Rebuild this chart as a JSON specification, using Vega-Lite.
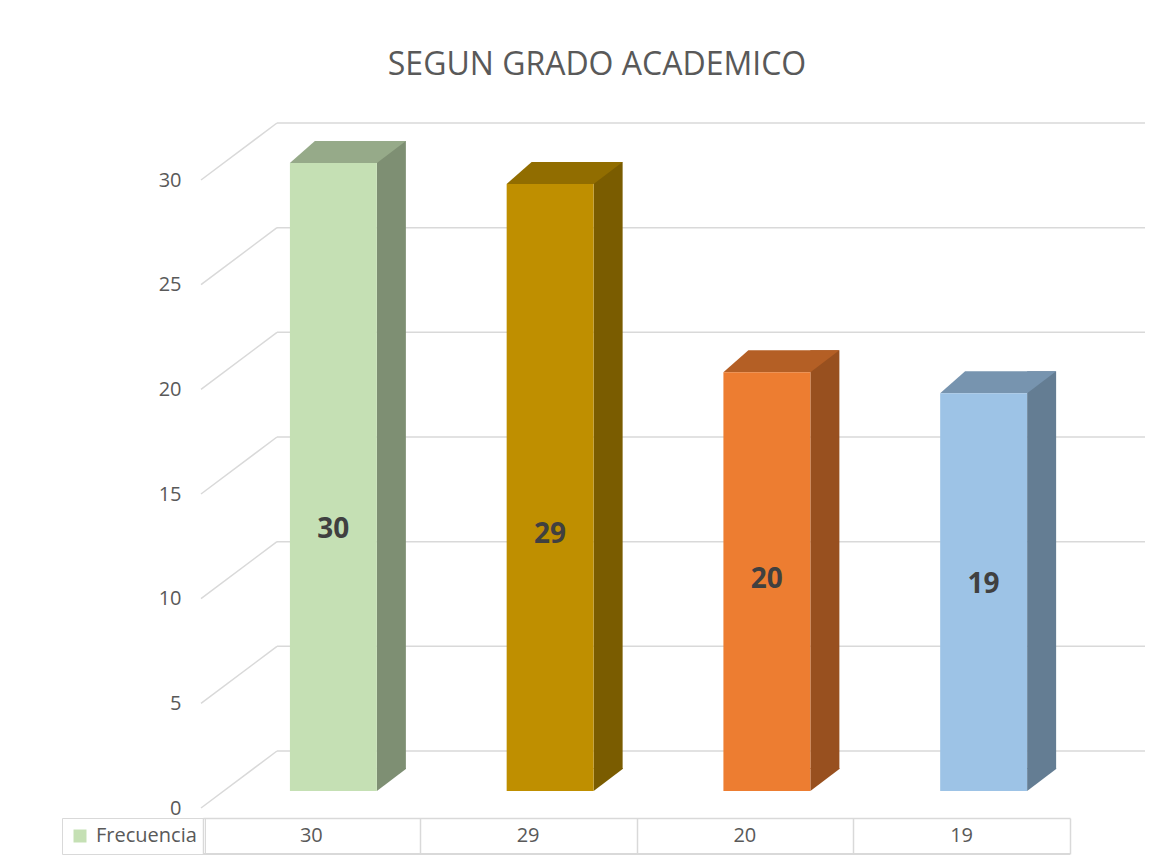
{
  "$schema": "https://vega.github.io/schema/vega-lite/v6.json",
  "autosize": "none",
  "width": 942,
  "height": 628,
  "padding": {"left": 203, "top": 180, "right": 28, "bottom": 56},
  "background": "white",
  "title": {"text": "SEGUN GRADO ACADEMICO", "font": "Open Sans", "fontSize": 32, "fontWeight": "normal", "color": "#595959", "anchor": "middle", "dx": -77, "offset": 40},
  "datasets": {
    "barras": [
      {"grado": "G1", "frecuencia": 30},
      {"grado": "G2", "frecuencia": 29},
      {"grado": "G3", "frecuencia": 20},
      {"grado": "G4", "frecuencia": 19}
    ],
    "marcas": [
      {"valor": 0}, {"valor": 5}, {"valor": 10}, {"valor": 15}, {"valor": 20}, {"valor": 25}, {"valor": 30}
    ]
  },
  "config": {
    "view": {"stroke": null},
    "font": "Open Sans",
    "axisY": {"grid": false, "domain": false, "ticks": false, "labelPadding": 22, "labelFontSize": 20, "labelColor": "#595959", "labelFont": "Open Sans", "tickCount": 6},
    "axisX": {"labels": false, "grid": false, "domainColor": "#D9D9D9", "domainWidth": 1.5, "tickColor": "#D9D9D9", "tickWidth": 1.5, "tickSize": 36, "tickBand": "extent", "offset": 10}
  },
  "resolve": {"scale": {"y": "independent"}},
  "layer": [
    {
      "resolve": {"scale": {"fill": "independent"}},
      "layer": [
        {
          "data": {"name": "marcas"},
          "mark": {"type": "rule", "color": "#D9D9D9", "strokeWidth": 1.5, "yOffset": -57, "xOffset": 74, "x2Offset": 75},
          "encoding": {
            "x": {"datum": "G1", "bandPosition": 0, "scale": {"domain": ["G1", "G2", "G3", "G4"], "range": [0, 867], "paddingInner": 0, "paddingOuter": 0}, "title": null},
            "x2": {"datum": "G4", "bandPosition": 1},
            "y": {"field": "valor", "type": "quantitative", "scale": {"domain": [0, 30], "nice": false}, "title": null}
          }
        },
        {
          "data": {"name": "marcas"},
          "mark": {"type": "rule", "color": "#D9D9D9", "strokeWidth": 1.5, "xOffset": -2, "x2Offset": 74, "y2Offset": -57},
          "encoding": {
            "x": {"datum": "G1", "bandPosition": 0},
            "x2": {"datum": "G1", "bandPosition": 0},
            "y": {"field": "valor", "type": "quantitative", "title": null},
            "y2": {"field": "valor"}
          }
        },
        {
          "data": {"name": "barras"},
          "mark": {"type": "bar", "width": 29, "xOffset": 80, "yOffset": -39, "y2Offset": -39},
          "encoding": {
            "x": {"field": "grado", "type": "nominal", "title": null},
            "y": {"field": "frecuencia", "type": "quantitative", "title": null},
            "fill": {"field": "grado", "type": "nominal", "scale": {"domain": ["G1", "G2", "G3", "G4"], "range": ["#7E8F73", "#7A5C00", "#98501F", "#647D93"]}, "legend": null}
          }
        },
        {
          "data": {"name": "barras"},
          "mark": {"type": "point", "shape": "M43.5,-23L72.5,-23L72.5,-22L43.5,0Z", "size": 4, "filled": true, "opacity": 1, "strokeWidth": 0, "xOffset": 22, "yOffset": -17},
          "encoding": {
            "x": {"field": "grado", "type": "nominal", "title": null},
            "y": {"datum": 0},
            "fill": {"field": "grado", "type": "nominal", "scale": {"domain": ["G1", "G2", "G3", "G4"], "range": ["#7E8F73", "#7A5C00", "#98501F", "#647D93"]}, "legend": null}
          }
        },
        {
          "data": {"name": "barras"},
          "mark": {"type": "point", "shape": "M-43.5,0L43.5,0L72.5,-22L-18.5,-22Z", "size": 4, "filled": true, "opacity": 1, "strokeWidth": 0, "xOffset": 22, "yOffset": -17},
          "encoding": {
            "x": {"field": "grado", "type": "nominal", "title": null},
            "y": {"field": "frecuencia", "type": "quantitative", "title": null},
            "fill": {"field": "grado", "type": "nominal", "scale": {"domain": ["G1", "G2", "G3", "G4"], "range": ["#96AA89", "#916D00", "#B45F25", "#7794AF"]}, "legend": null}
          }
        },
        {
          "data": {"name": "barras"},
          "mark": {"type": "bar", "width": {"band": 0.401}, "xOffset": 22, "yOffset": -17, "y2Offset": -17},
          "encoding": {
            "x": {"field": "grado", "type": "nominal", "title": null},
            "y": {"field": "frecuencia", "type": "quantitative", "title": null},
            "color": {
              "field": "grado", "type": "nominal",
              "scale": {"domain": ["G1", "G2", "G3", "G4"], "range": ["#C5E0B4", "#BF8F00", "#ED7D31", "#9DC3E6"]},
              "legend": {"values": ["G1"], "labelExpr": "'Frecuencia'", "title": null, "orient": "none", "legendX": -141, "legendY": 638, "padding": 8, "strokeColor": "#D9D9D9", "symbolType": "square", "symbolSize": 169, "symbolStrokeWidth": 0, "symbolOpacity": 1, "labelFontSize": 20, "labelColor": "#595959", "labelFont": "Open Sans", "labelOffset": 6}
            }
          }
        },
        {
          "data": {"name": "barras"},
          "mark": {"type": "text", "fontSize": 20, "color": "#595959", "font": "Open Sans", "baseline": "middle", "yOffset": 28},
          "encoding": {
            "x": {"field": "grado", "type": "nominal", "title": null},
            "y": {"datum": 0},
            "text": {"field": "frecuencia", "type": "quantitative"}
          }
        },
        {
          "data": {"name": "barras"},
          "mark": {"type": "rule", "color": "#D9D9D9", "strokeWidth": 1.5, "yOffset": 46},
          "encoding": {
            "x": {"datum": "G1", "bandPosition": 0},
            "x2": {"datum": "G4", "bandPosition": 1},
            "y": {"datum": 0}
          }
        }
      ]
    },
    {
      "data": {"name": "barras"},
      "mark": {"type": "text", "fontSize": 28, "fontWeight": "bold", "color": "#404040", "font": "Open Sans", "baseline": "middle", "xOffset": 22},
      "encoding": {
        "x": {"field": "grado", "type": "nominal", "title": null},
        "y": {"field": "frecuencia", "type": "quantitative", "scale": {"domain": [-25.6, 100], "nice": false, "zero": false}, "axis": null},
        "text": {"field": "frecuencia", "type": "quantitative"}
      }
    }
  ]
}
